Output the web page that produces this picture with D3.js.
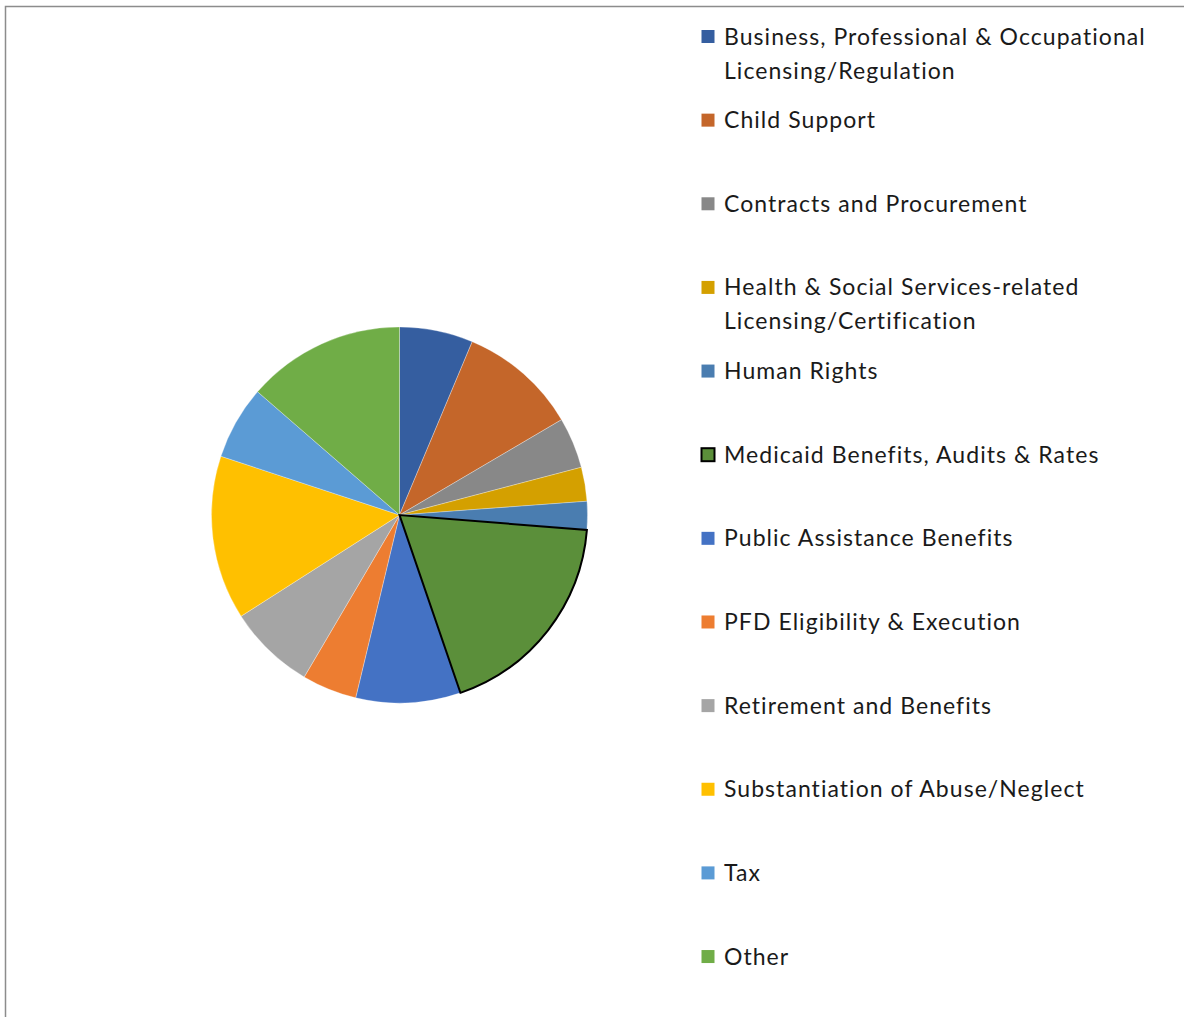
<!DOCTYPE html>
<html>
  <head>
    <meta charset="utf-8">
    <title>Cases by type</title>
    <script src="https://d3js.org/d3.v7.min.js"></script>
    <style>
      body { margin: 0; background: #fff; }
      #chart { display: block; }
      .legendText { font-family: Lato, "Open Sans", sans-serif; font-size: 23px; letter-spacing: 1.05px; fill: #1a1a1a; font-variant-ligatures: none; }
    </style>
  </head>
  <body>
    <svg id="chart" width="1184" height="1017"></svg>
    <script>
      // data
      categories = [
        "Business, Professional & Occupational|Licensing/Regulation",
        "Child Support",
        "Contracts and Procurement",
        "Health & Social Services-related|Licensing/Certification",
        "Human Rights",
        "Medicaid Benefits, Audits & Rates",
        "Public Assistance Benefits",
        "PFD Eligibility & Execution",
        "Retirement and Benefits",
        "Substantiation of Abuse/Neglect",
        "Tax",
        "Other"
      ];
      counts = [13, 21, 9, 6, 5, 38, 18.5, 9.7, 15.4, 29, 13, 28];
      colours = ["#355ea0", "#c4662a", "#888888", "#d4a000", "#4a7db0", "#5b8f3a",
                 "#4472c4", "#ed7d31", "#a5a5a5", "#ffc000", "#5b9bd5", "#70ad47"];
      highlighted = "Medicaid Benefits, Audits & Rates";

      chart = d3.select("#chart");
      // frame
      chart.append("path")
        .attr("d", "M 5.5 1017 V 6.5 H 1184")
        .attr("fill", "none")
        .attr("stroke", "#8c8c8c")
        .attr("stroke-width", 1.5);

      // pie
      items = categories.map(function(c, i) {
        return { name: c, value: counts[i], colour: colours[i] };
      });
      pie = d3.pie()
        .sort(null)
        .value(function(d) { return d.value; });
      arc = d3.arc()
        .innerRadius(0)
        .outerRadius(188);
      pieGroup = chart.append("g")
        .attr("transform", "translate(399.5,515)");
      pieGroup.selectAll(".slice")
          .data(pie(items))
        .enter().append("path")
          .classed("slice", true)
          .attr("d", arc)
          .attr("fill", function(d) { return d.data.colour; })
          .attr("stroke", "#ffffff")
          .attr("stroke-opacity", 0.5)
          .attr("stroke-width", 0.6);
      // selected slice drawn on top with a dark outline
      pieGroup.selectAll(".slice")
        .filter(function(d) { return d.data.name == highlighted; })
        .attr("stroke", "#000")
        .attr("stroke-opacity", 1)
        .attr("stroke-width", 2)
        .raise();

      // legend
      step = 83.64;
      legend = chart.append("g")
        .attr("transform", "translate(701,36.5)");
      entries = legend.selectAll(".entry")
          .data(items)
        .enter().append("g")
          .classed("entry", true)
          .attr("transform", function(d, i) { return "translate(0," + (i * step) + ")"; });
      entries.append("rect")
        .attr("x", 0.5)
        .attr("y", -6.5)
        .attr("width", 13)
        .attr("height", 13)
        .attr("fill", function(d) { return d.colour; })
        .attr("stroke", function(d) { return d.name == highlighted ? "#000" : "none"; })
        .attr("stroke-width", 2);
      entries.append("text")
        .classed("legendText", true)
        .attr("x", 23)
        .attr("y", 8)
        .selectAll("tspan")
          .data(function(d) { return d.name.split("|"); })
        .enter().append("tspan")
          .attr("x", 23)
          .attr("dy", function(d, i) { return i == 0 ? 0 : 34; })
          .text(function(d) { return d; });
    </script>
  </body>
</html>
